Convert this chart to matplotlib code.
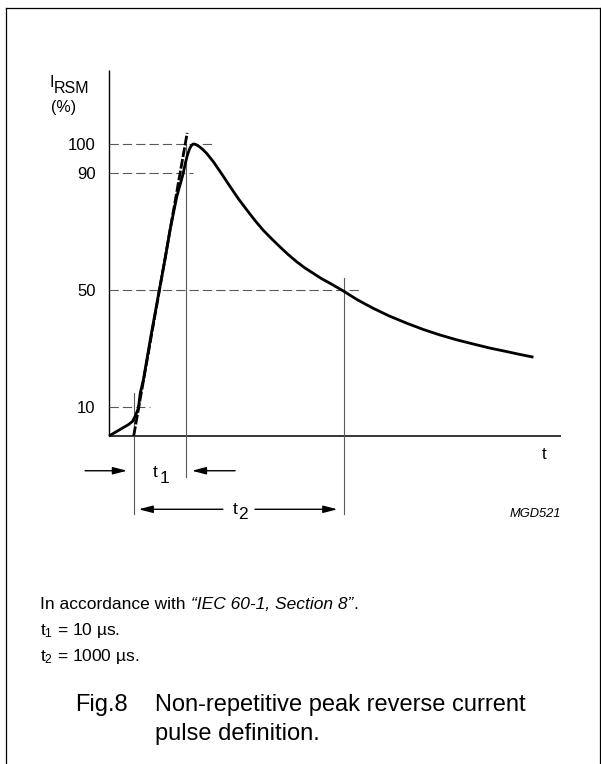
#!/usr/bin/env python
# -*- coding: utf-8 -*-

import matplotlib
matplotlib.use("Agg")
import matplotlib.pyplot as plt
from matplotlib.lines import Line2D

plt.rcParams['font.family'] = ['Liberation Sans', 'DejaVu Sans']
plt.rcParams['mathtext.fontset'] = 'custom'
plt.rcParams['mathtext.rm'] = 'Liberation Sans'
plt.rcParams['mathtext.it'] = 'Liberation Sans:italic'
plt.rcParams['lines.scale_dashes'] = False

# pulse shape (t in arbitrary units 0..100 along the axis, I in %)
pulse_t = [0.0, 2.3, 4.3, 5.2, 5.8, 6.5, 6.9, 7.6, 9.3, 11.1, 12.4, 13.5, 15.0,
           16.4, 16.9, 17.4, 17.9, 18.3, 18.65, 19.1, 19.8, 20.7, 21.6, 23.1,
           25.0, 26.8, 28.6, 30.5, 32.3, 34.1, 36.0, 37.8, 39.6, 41.5, 43.3,
           45.2, 47.0, 48.9, 51.8, 55.0, 58.5, 62.0, 65.9, 69.5, 73.2, 77.0,
           80.6, 84.3, 88.0, 91.0, 93.9]
pulse_i = [0.0, 2.1, 3.9, 5.0, 6.8, 9.5, 14.6, 19.2, 34.5, 49.7, 60.5, 70.5, 82.0,
           89.8, 93.5, 96.5, 98.6, 99.6, 100.0, 99.9, 99.3, 98.2, 96.8, 93.9,
           89.6, 85.4, 81.3, 77.4, 73.8, 70.5, 67.5, 64.8, 62.2, 59.7, 57.6,
           55.7, 53.9, 52.3, 49.7, 46.6, 43.7, 41.1, 38.6, 36.5, 34.6, 32.9,
           31.5, 30.1, 28.9, 27.9, 27.0]

# reference levels and where each dashed guide stops
levels = [100, 90, 50, 10]
level_ends = [22.8, 18.65, 56.0, 9.07]

t1_start = 5.46
t1_end = 17.0
t2_end = 52.0

# straight line through the front (10% / 90%)
front_t = [t1_start, 17.3]
front_i = [0.0, 103.8]

x_max = 100
y_top = 125.34

fig = plt.figure(figsize=(6.01, 7.64), dpi=100)
ax = fig.add_axes([109 / 601, (764 - 520) / 764, 452 / 601, 450 / 764])
ax.set_xlim(0, x_max)
ax.set_ylim(-28.77, y_top)
ax.axis('off')

gray = '#5a5a5a'

# axes
ax.plot([0, 0], [0, y_top], color='black', lw=1.0, clip_on=False, solid_capstyle='butt')
ax.plot([0, x_max], [0, 0], color='black', lw=1.1, clip_on=False, solid_capstyle='butt')

# dashed guides + tick labels
for v, e in zip(levels, level_ends):
    ax.plot([0, e], [v, v], color=gray, lw=0.8, dashes=(6.7, 2.9), clip_on=False)
    ax.annotate(str(v), xy=(0, v), xytext=(-13.5, -6), textcoords='offset pixels',
                ha='right', va='baseline', fontsize=12, annotation_clip=False)

# vertical markers
ax.plot([t1_start, t1_start], [14.7, -26.7], color=gray, lw=0.8, clip_on=False)
ax.plot([t1_end, t1_end], [100, -14.0], color=gray, lw=0.8, clip_on=False)
ax.plot([t2_end, t2_end], [54.1, -26.7], color=gray, lw=0.8, clip_on=False)

# curve and front line
ax.plot(pulse_t, pulse_i, color='black', lw=2.0, clip_on=False,
        solid_joinstyle='round', solid_capstyle='butt')
ax.plot(front_t, front_i, color='black', lw=2.0, dashes=(7, 1.5), clip_on=False)

# dimension arrows
arrow = dict(arrowstyle='-|>,head_length=0.85,head_width=0.22', color='black',
             lw=1.0, mutation_scale=10, shrinkA=0, shrinkB=0)
y_t1 = -11.9
y_t2 = -25.1
ax.annotate('', xy=(t1_start - 1.47, y_t1), xytext=(-5.3, y_t1), arrowprops=arrow,
            annotation_clip=False)
ax.annotate('', xy=(t1_end + 1.33, y_t1), xytext=(27.9, y_t1), arrowprops=arrow,
            annotation_clip=False)
ax.annotate('', xy=(t1_start + 1.1, y_t2), xytext=(25.2, y_t2), arrowprops=arrow,
            annotation_clip=False)
ax.annotate('', xy=(t2_end - 1.46, y_t2), xytext=(32.3, y_t2), arrowprops=arrow,
            annotation_clip=False)

# t1 / t2 labels (subscript same size, lowered)
ax.text(9.62, -14.0, 't', fontsize=12.5, ha='left', va='baseline')
ax.text(11.11, -16.16, '1', fontsize=12.5, ha='left', va='baseline')
ax.text(27.3, -26.7, 't', fontsize=12.5, ha='left', va='baseline')
ax.text(28.5, -28.4, '2', fontsize=12.5, ha='left', va='baseline')

# axis labels
ax.text(96.35, -7.98, 't', fontsize=12, ha='center', va='baseline')
ax.text(99.9, -27.6, 'MGD521', fontsize=9.3, style='italic', ha='right', va='baseline')
ax.text(-13.17, 119.4, 'I', fontsize=11.5, ha='left', va='baseline', clip_on=False)
ax.text(-12.23, 117.4, 'RSM', fontsize=11.5, ha='left', va='baseline', clip_on=False)
ax.text(-10.07, 111.1, '(%)', fontsize=11.5, ha='center', va='baseline', clip_on=False)

# frame (left, top, right)
W, H = 601, 764
for xs, ys in [([5.5, 5.5], [0, 756.5]), ([5.5, 600], [756.5, 756.5]), ([599.5, 599.5], [0, 756.5])]:
    fig.add_artist(Line2D([x / W for x in xs], [y / H for y in ys], color='black', lw=0.9))

# notes
def ftext(x, y, s, **kw):
    return fig.text(x / W, 1 - y / H, s, va='baseline', **kw)

n1 = ftext(40.5, 609, 'In accordance with ', fontsize=12.5)
a2 = ax.annotate('\u201cIEC 60-1, Section 8\u201d', xycoords=n1, xy=(1, 0),
                 va='bottom', ha='left', fontsize=12.5, style='italic',
                 annotation_clip=False)
ax.annotate('.', xycoords=a2, xy=(1, 0), va='bottom', ha='left', fontsize=12.5,
            annotation_clip=False)
ftext(40.5, 635, 't$_{\\mathregular{1}}$ = 10 \u00b5s.', fontsize=12.5)
ftext(40.5, 661, 't$_{\\mathregular{2}}$ = 1000 \u00b5s.', fontsize=12.5)

# caption
ftext(75, 710.5, 'Fig.8', fontsize=17)
ftext(155, 710.5, 'Non-repetitive peak reverse current', fontsize=17)
ftext(155, 740, 'pulse definition.', fontsize=17)

fig.savefig('out.png', dpi=100)
